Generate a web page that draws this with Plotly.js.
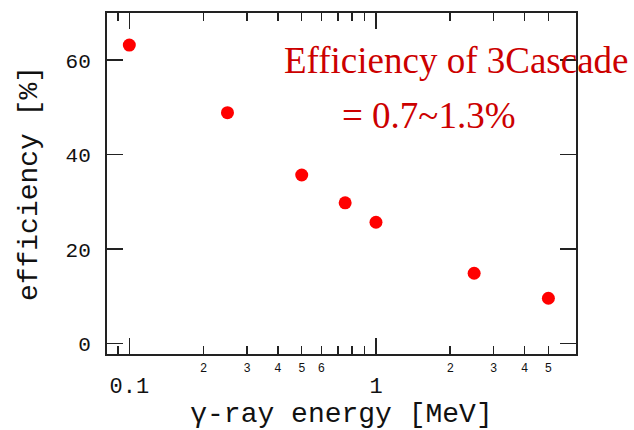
<!DOCTYPE html>
<html>
<head>
<meta charset="utf-8">
<script src="https://cdn.plot.ly/plotly-3.0.1.min.js"></script>
<style>html,body{margin:0;padding:0;background:#fff;}</style>
</head>
<body>
<div id="chart" style="width:634px;height:430px;"></div>
<script>
// Data
const energyMeV = [0.1, 0.25, 0.5, 0.75, 1.0, 2.5, 5.0];
const efficiencyPct = [63.2, 48.9, 35.7, 29.8, 25.7, 14.9, 9.6];

// Tick labels
const minorLabelVals = [0.2, 0.3, 0.4, 0.5, 0.6, 2, 3, 4, 5];
const minorLabelText = ["2", "3", "4", "5", "6", "2", "3", "4", "5"];
const unlabeledMinorVals = [0.09, 0.7, 0.8, 0.9];
const majorVals = [0.1, 1];
const majorText = ["0.1", "1"];
const yTickVals = [0, 20, 40, 60];

const xRange = [Math.log10(0.0812), Math.log10(6.47)];
const mono = "Liberation Mono";
const axisColor = "#222";

const trace = {
  x: energyMeV,
  y: efficiencyPct,
  type: "scatter",
  mode: "markers",
  marker: { color: "#ff0000", size: 13, symbol: "circle" },
  hoverinfo: "skip"
};

// invisible trace on overlaying axis so it draws
const traceMajor = {
  x: majorVals,
  y: [null, null],
  xaxis: "x2",
  type: "scatter",
  mode: "markers",
  showlegend: false,
  hoverinfo: "skip"
};

const layout = {
  width: 634,
  height: 430,
  margin: { l: 107, r: 58, t: 13, b: 76 },
  paper_bgcolor: "#ffffff",
  plot_bgcolor: "#ffffff",
  showlegend: false,
  xaxis: {
    type: "log",
    range: xRange,
    showgrid: false,
    zeroline: false,
    showline: true,
    linecolor: axisColor,
    linewidth: 2,
    mirror: "ticks",
    ticks: "inside",
    ticklen: 8,
    tickwidth: 1.5,
    tickcolor: axisColor,
    tickmode: "array",
    tickvals: minorLabelVals,
    ticktext: minorLabelText,
    tickfont: { family: mono, size: 12, color: "#111" },
    ticklabelstandoff: 2,
    minor: {
      tickmode: "array",
      tickvals: unlabeledMinorVals,
      ticks: "inside",
      ticklen: 8,
      tickwidth: 1.5,
      tickcolor: axisColor,
      showgrid: false
    },
    title: {
      text: "γ-ray energy [MeV]",
      font: { family: mono, size: 28, color: "#111" },
      standoff: 30
    }
  },
  xaxis2: {
    type: "log",
    range: xRange,
    overlaying: "x",
    side: "bottom",
    showgrid: false,
    zeroline: false,
    showline: false,
    mirror: "ticks",
    ticks: "inside",
    ticklen: 16,
    tickwidth: 1.5,
    tickcolor: axisColor,
    tickmode: "array",
    tickvals: majorVals,
    ticktext: majorText,
    tickfont: { family: mono, size: 22, color: "#111" },
    ticklabelstandoff: 16
  },
  yaxis: {
    range: [-2.2, 70],
    showgrid: false,
    zeroline: false,
    showline: true,
    linecolor: axisColor,
    linewidth: 2,
    mirror: "ticks",
    ticks: "inside",
    ticklen: 16,
    tickwidth: 1.5,
    tickcolor: axisColor,
    tickmode: "array",
    tickvals: yTickVals,
    tickfont: { family: mono, size: 21, color: "#111" },
    ticklabelstandoff: 10,
    title: {
      text: "efficiency [%]",
      font: { family: mono, size: 28, color: "#111" },
      standoff: 20
    }
  },
  annotations: [
    {
      xref: "paper", yref: "paper",
      x: (631 - 107) / 469, y: (354 - 83) / 341,
      xanchor: "right", yanchor: "bottom",
      text: "Efficiency of 3Cascade",
      showarrow: false,
      font: { family: "Liberation Serif", size: 37, color: "#cc0000" }
    },
    {
      xref: "paper", yref: "paper",
      x: (428 - 107) / 469, y: (354 - 138) / 341,
      xanchor: "center", yanchor: "bottom",
      text: "= 0.7~1.3%",
      showarrow: false,
      font: { family: "Liberation Serif", size: 37, color: "#cc0000" }
    }
  ]
};

Plotly.newPlot("chart", [trace, traceMajor], layout, { displayModeBar: false, staticPlot: true });
</script>
</body>
</html>
